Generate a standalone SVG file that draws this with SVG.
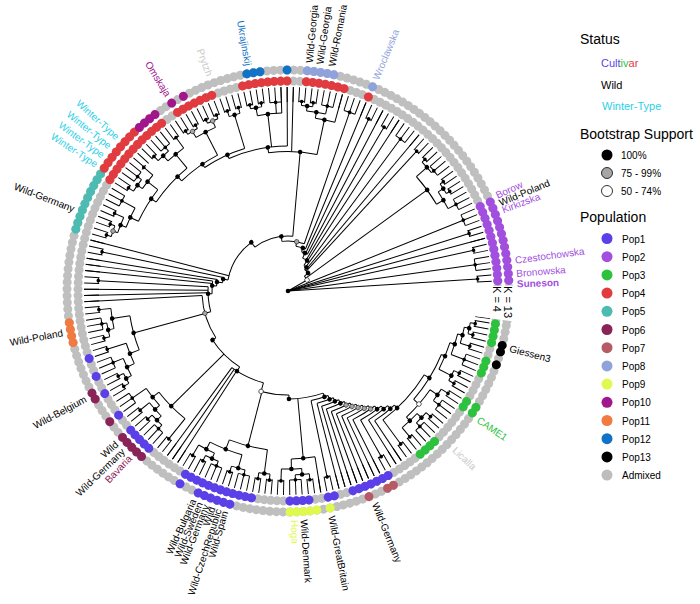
<svg xmlns="http://www.w3.org/2000/svg" width="700" height="604" viewBox="0 0 700 604">
<style>
text{font-family:"Liberation Sans",Arial,Helvetica,sans-serif;font-size:10px}
.t line{stroke:#000;stroke-width:1}
.a{fill:none;stroke:#000;stroke-width:1}
.k{fill:#000}
.g{fill:#a6a6a6;stroke:#000;stroke-width:.5}
.w{fill:#fff;stroke:#000;stroke-width:.6}
.d{fill:none;stroke-width:9;stroke-linecap:round}
.ring{stroke:#bfbfbf;stroke-dasharray:0 1.75}
.n1{stroke-dasharray:0 400}
.n2{stroke-dasharray:0 1.75 0 400}
.n3{stroke-dasharray:0 1.75 0 1.75 0 400}
.n4{stroke-dasharray:0 1.75 0 1.75 0 1.75 0 400}
.n5{stroke-dasharray:0 1.75 0 1.75 0 1.75 0 1.75 0 400}
.n6{stroke-dasharray:0 1.75 0 1.75 0 1.75 0 1.75 0 1.75 0 400}
.n7{stroke-dasharray:0 1.75 0 1.75 0 1.75 0 1.75 0 1.75 0 1.75 0 400}
.n8{stroke-dasharray:0 1.75 0 1.75 0 1.75 0 1.75 0 1.75 0 1.75 0 1.75 0 400}
.n10{stroke-dasharray:0 1.75 0 1.75 0 1.75 0 1.75 0 1.75 0 1.75 0 1.75 0 1.75 0 1.75 0 400}
.n12{stroke-dasharray:0 1.75 0 1.75 0 1.75 0 1.75 0 1.75 0 1.75 0 1.75 0 1.75 0 1.75 0 1.75 0 1.75 0 400}
.n13{stroke-dasharray:0 1.75 0 1.75 0 1.75 0 1.75 0 1.75 0 1.75 0 1.75 0 1.75 0 1.75 0 1.75 0 1.75 0 1.75 0 400}
.P1{stroke:#5b3fe8}.P2{stroke:#a24fe0}.P3{stroke:#2dc23e}.P4{stroke:#e23b3f}.P5{stroke:#4cbcb2}.P6{stroke:#8a2358}.P7{stroke:#b85a66}.P8{stroke:#8fa2dc}.P9{stroke:#dff94f}.P10{stroke:#a1158d}.P11{stroke:#f07a40}.P12{stroke:#1272c6}.P13{stroke:#000}
.L text{dominant-baseline:central}
.e{text-anchor:end}
.h{font-size:14px}
.i{font-size:11px}
</style>
<defs>
<g id="c2"><circle class="a" r="190" pathLength="360" stroke-dasharray="1.75 400"/><circle class="k" cx="190" r="1.8" transform="rotate(.875)"/></g>
<g id="c3"><circle class="a" r="189" pathLength="360" stroke-dasharray="3.5 400"/><circle class="k" cx="189" r="1.8" transform="rotate(1.75)"/></g>
</defs>
<rect width="700" height="604" fill="#fff"/>
<g id="tree" class="t" transform="translate(288 291)">
<g id="root-fan">
<line x1="0" x2="22" transform="rotate(330)"/><line x1="0" x2="189" transform="rotate(338)"/><line x1="0" x2="190" transform="rotate(342.375)"/><line x1="0" x2="204" transform="rotate(345)"/><line x1="0" x2="190" transform="rotate(347.625)"/><line x1="0" x2="189" transform="rotate(352)"/><line x1="0" x2="190" transform="rotate(356.375)"/>
<use href="#c3" transform="rotate(336.25)"/><use href="#c2" transform="rotate(341.5)"/><use href="#c2" transform="rotate(346.75)"/><use href="#c3" transform="rotate(350.25)"/><use href="#c2" transform="rotate(355.5)"/>
<circle class="k" r="2.3"/>
</g>
<g id="clade-k1">
<use href="#c2" transform="rotate(315.25)"/><use href="#c3" transform="rotate(318.75)"/><use href="#c2" transform="rotate(324)"/><use href="#c2" transform="rotate(327.5)"/><use href="#c3" transform="rotate(331)"/>
<circle class="a" r="186" pathLength="360" stroke-dasharray="4.375 400" transform="rotate(316.125)"/><line x1="186" x2="190" transform="rotate(316.125)"/><line x1="186" x2="189" transform="rotate(320.5)"/><circle class="k" cx="186" r="2.3" transform="rotate(318.3)"/>
<circle class="a" r="186" pathLength="360" stroke-dasharray="3.5 400" transform="rotate(324.875)"/><line x1="186" x2="190" transform="rotate(324.875)"/><line x1="186" x2="190" transform="rotate(328.375)"/><circle class="k" cx="186" r="2.3" transform="rotate(326.6)"/>
<circle class="a" r="180" pathLength="360" stroke-dasharray="6.15 400" transform="rotate(326.6)"/><line x1="180" x2="186" transform="rotate(326.6)"/><line x1="180" x2="189" transform="rotate(332.75)"/><circle class="k" cx="180" r="2.3" transform="rotate(329.7)"/>
<circle class="a" r="172" pathLength="360" stroke-dasharray="11.4 400" transform="rotate(318.3)"/><line x1="172" x2="186" transform="rotate(318.3)"/><line x1="172" x2="180" transform="rotate(329.7)"/><circle class="k" cx="172" r="2.3" transform="rotate(324)"/>
</g>
<g id="backbone">
<circle class="a" r="22" pathLength="360" stroke-dasharray="12 400" transform="rotate(318)"/><line x1="22" x2="172" transform="rotate(324)"/><line x1="22" x2="27" transform="rotate(318)"/>
<circle class="a" r="27" pathLength="360" stroke-dasharray="10 400" transform="rotate(308)"/><line x1="27" x2="190" transform="rotate(312.625)"/><line x1="27" x2="30" transform="rotate(308)"/><use href="#c2" transform="rotate(311.75)"/>
<circle class="a" r="30" pathLength="360" stroke-dasharray="8 400" transform="rotate(302)"/><line x1="30" x2="204" transform="rotate(310)"/><line x1="30" x2="189" transform="rotate(306.5)"/><line x1="30" x2="36" transform="rotate(302)"/><use href="#c3" transform="rotate(304.75)"/>
<circle class="a" r="36" pathLength="360" stroke-dasharray="9 400" transform="rotate(294)"/><line x1="36" x2="204" transform="rotate(303)"/><line x1="36" x2="190" transform="rotate(300.375)"/><line x1="36" x2="41.6" transform="rotate(294)"/><use href="#c2" transform="rotate(299.5)"/>
<circle class="a" r="41.6" pathLength="360" stroke-dasharray="8.75 400" transform="rotate(289)"/><line x1="41.6" x2="204" transform="rotate(297.75)"/><line x1="41.6" x2="190" transform="rotate(295.125)"/><line x1="41.6" x2="45.5" transform="rotate(289)"/><use href="#c2" transform="rotate(294.25)"/>
<circle class="a" r="45.5" pathLength="360" stroke-dasharray="12.5 400" transform="rotate(280)"/><line x1="45.5" x2="204" transform="rotate(292.5)"/><line x1="45.5" x2="50" transform="rotate(280)"/>
<circle class="a" r="50" pathLength="360" stroke-dasharray="26 400" transform="rotate(263)"/><line x1="50" x2="189" transform="rotate(289)"/><line x1="50" x2="55" transform="rotate(263)"/><use href="#c3" transform="rotate(287.25)"/>
<circle class="a" r="55" pathLength="360" stroke-dasharray="42 400" transform="rotate(233)"/><line x1="55" x2="139.5" transform="rotate(275)"/><line x1="55" x2="61" transform="rotate(233)"/>
<circle class="a" r="61" pathLength="360" stroke-dasharray="42.5 400" transform="rotate(190.5)"/><line x1="61" x2="204" transform="rotate(194.5)"/><line x1="61" x2="66" transform="rotate(190.5)"/>
<circle class="a" r="66" pathLength="360" stroke-dasharray="4.675 400" transform="rotate(187.2)"/><line x1="66" x2="190" transform="rotate(191.875)"/><line x1="66" x2="71.6" transform="rotate(187.2)"/><use href="#c2" transform="rotate(191)"/>
<circle class="a" r="71.6" pathLength="360" stroke-dasharray="5.25 400" transform="rotate(184)"/><line x1="71.6" x2="204" transform="rotate(189.25)"/><line x1="71.6" x2="76" transform="rotate(184)"/>
<circle class="a" r="76" pathLength="360" stroke-dasharray="9.5 400" transform="rotate(178)"/><line x1="76" x2="204" transform="rotate(187.5)"/><line x1="76" x2="204" transform="rotate(185.75)"/><line x1="76" x2="80" transform="rotate(178)"/>
<circle class="a" r="80" pathLength="360" stroke-dasharray="18.125 400" transform="rotate(165)"/><line x1="80" x2="190" transform="rotate(183.125)"/><line x1="80" x2="204" transform="rotate(180.5)"/><line x1="80" x2="204" transform="rotate(178.75)"/><line x1="80" x2="86" transform="rotate(165)"/><use href="#c2" transform="rotate(182.25)"/>
<circle class="a" r="86" pathLength="360" stroke-dasharray="30 400" transform="rotate(147)"/><line x1="86" x2="204" transform="rotate(177)"/><line x1="86" x2="160" transform="rotate(164.8)"/><line x1="86" x2="90" transform="rotate(147)"/>
<circle class="a" r="90" pathLength="360" stroke-dasharray="24.5 400" transform="rotate(122.5)"/><line x1="90" x2="164" transform="rotate(135.4)"/><line x1="90" x2="95" transform="rotate(122.5)"/>
<circle class="a" r="95" pathLength="360" stroke-dasharray="21.25 400" transform="rotate(105)"/><line x1="95" x2="204" transform="rotate(126.25)"/><line x1="95" x2="204" transform="rotate(124.5)"/><line x1="95" x2="204" transform="rotate(122.75)"/><line x1="95" x2="104" transform="rotate(105)"/>
<circle class="a" r="104" pathLength="360" stroke-dasharray="15.5 400" transform="rotate(89.5)"/><line x1="104" x2="160" transform="rotate(104.5)"/><line x1="104" x2="108" transform="rotate(89.5)"/>
<circle class="a" r="108" pathLength="360" stroke-dasharray="18.5 400" transform="rotate(71)"/><line x1="108" x2="168" transform="rotate(84.8)"/><line x1="108" x2="112" transform="rotate(71)"/>
<circle class="w" cx="22" r="2.3" transform="rotate(330)"/><circle class="k" cx="27" r="2.3" transform="rotate(318)"/><circle class="k" cx="30" r="2.3" transform="rotate(308)"/><circle class="k" cx="36" r="2.3" transform="rotate(302)"/><circle class="k" cx="41.6" r="2.3" transform="rotate(294)"/><circle class="k" cx="45.5" r="2.3" transform="rotate(289)"/><circle class="g" cx="50" r="2.3" transform="rotate(280)"/><circle class="k" cx="55" r="2.3" transform="rotate(263)"/><circle class="k" cx="61" r="2.3" transform="rotate(233)"/><circle class="k" cx="66" r="2.3" transform="rotate(190.5)"/><circle class="k" cx="71.6" r="2.3" transform="rotate(187.2)"/><circle class="k" cx="76" r="2.3" transform="rotate(184)"/><circle class="k" cx="80" r="2.3" transform="rotate(178)"/><circle class="g" cx="86" r="2.3" transform="rotate(165)"/><circle class="k" cx="90" r="2.3" transform="rotate(147)"/><circle class="k" cx="95" r="2.3" transform="rotate(122.5)"/><circle class="w" cx="104" r="2.3" transform="rotate(105)"/><circle class="k" cx="108" r="2.3" transform="rotate(89.5)"/>
</g>
<g id="spiral">
<circle class="a" r="112" pathLength="360" stroke-dasharray="9.125 400" transform="rotate(69)"/><line x1="112" x2="190" transform="rotate(78.125)"/><line x1="112" x2="116" transform="rotate(69)"/><use href="#c2" transform="rotate(77.25)"/>
<circle class="a" r="116" pathLength="360" stroke-dasharray="8.5 400" transform="rotate(67)"/><line x1="116" x2="204" transform="rotate(75.5)"/><line x1="116" x2="120" transform="rotate(67)"/>
<circle class="a" r="120" pathLength="360" stroke-dasharray="8.75 400" transform="rotate(65)"/><line x1="120" x2="204" transform="rotate(73.75)"/><line x1="120" x2="124" transform="rotate(65)"/>
<circle class="a" r="124" pathLength="360" stroke-dasharray="9 400" transform="rotate(63)"/><line x1="124" x2="204" transform="rotate(72)"/><line x1="124" x2="128" transform="rotate(63)"/>
<circle class="a" r="128" pathLength="360" stroke-dasharray="9.25 400" transform="rotate(61)"/><line x1="128" x2="204" transform="rotate(70.25)"/><line x1="128" x2="132" transform="rotate(61)"/>
<circle class="a" r="132" pathLength="360" stroke-dasharray="9.5 400" transform="rotate(59)"/><line x1="132" x2="204" transform="rotate(68.5)"/><line x1="132" x2="136" transform="rotate(59)"/>
<circle class="a" r="136" pathLength="360" stroke-dasharray="9.75 400" transform="rotate(57)"/><line x1="136" x2="204" transform="rotate(66.75)"/><line x1="136" x2="140" transform="rotate(57)"/>
<circle class="a" r="140" pathLength="360" stroke-dasharray="10 400" transform="rotate(55)"/><line x1="140" x2="204" transform="rotate(65)"/><line x1="140" x2="144" transform="rotate(55)"/>
<circle class="a" r="144" pathLength="360" stroke-dasharray="10.25 400" transform="rotate(53)"/><line x1="144" x2="204" transform="rotate(63.25)"/><line x1="144" x2="148" transform="rotate(53)"/>
<circle class="a" r="148" pathLength="360" stroke-dasharray="9.625 400" transform="rotate(51)"/><line x1="148" x2="190" transform="rotate(60.625)"/><line x1="148" x2="152" transform="rotate(51)"/><use href="#c2" transform="rotate(59.75)"/>
<circle class="a" r="152" pathLength="360" stroke-dasharray="9 400" transform="rotate(49)"/><line x1="152" x2="204" transform="rotate(58)"/><line x1="152" x2="156" transform="rotate(49)"/>
<circle class="a" r="156" pathLength="360" stroke-dasharray="9.25 400" transform="rotate(47)"/><line x1="156" x2="204" transform="rotate(56.25)"/><line x1="156" x2="160" transform="rotate(47)"/>
<circle class="a" r="160" pathLength="360" stroke-dasharray="22.025 400" transform="rotate(31.6)"/><line x1="160" x2="190" transform="rotate(53.625)"/><line x1="160" x2="166" transform="rotate(31.6)"/><use href="#c2" transform="rotate(52.75)"/>
<circle class="k" cx="112" r="2.3" transform="rotate(71)"/><circle class="k" cx="116" r="2.3" transform="rotate(69)"/><circle class="k" cx="120" r="2.3" transform="rotate(67)"/><circle class="k" cx="124" r="2.3" transform="rotate(65)"/><circle class="g" cx="128" r="2.3" transform="rotate(63)"/><circle class="g" cx="132" r="2.3" transform="rotate(61)"/><circle class="g" cx="136" r="2.3" transform="rotate(59)"/><circle class="g" cx="140" r="2.3" transform="rotate(57)"/><circle class="g" cx="144" r="2.3" transform="rotate(55)"/><circle class="k" cx="148" r="2.3" transform="rotate(53)"/><circle class="k" cx="152" r="2.3" transform="rotate(51)"/><circle class="k" cx="156" r="2.3" transform="rotate(49)"/><circle class="k" cx="160" r="2.3" transform="rotate(47)"/>
</g>
<g id="clade-green">
<use href="#c2" transform="rotate(9)"/><use href="#c2" transform="rotate(12.5)"/><use href="#c2" transform="rotate(16)"/><use href="#c3" transform="rotate(19.5)"/><use href="#c2" transform="rotate(24.75)"/><use href="#c2" transform="rotate(28.25)"/><use href="#c2" transform="rotate(31.75)"/><use href="#c3" transform="rotate(35.25)"/><use href="#c2" transform="rotate(40.5)"/><use href="#c3" transform="rotate(44)"/><use href="#c2" transform="rotate(49.25)"/>
<circle class="a" r="185" pathLength="360" stroke-dasharray="3.5 400" transform="rotate(9.875)"/><line x1="185" x2="190" transform="rotate(9.875)"/><line x1="185" x2="190" transform="rotate(13.375)"/>
<circle class="a" r="180" pathLength="360" stroke-dasharray="5.275 400" transform="rotate(11.6)"/><line x1="180" x2="185" transform="rotate(11.6)"/><line x1="180" x2="190" transform="rotate(16.875)"/>
<circle class="a" r="175" pathLength="360" stroke-dasharray="7.05 400" transform="rotate(14.2)"/><line x1="175" x2="180" transform="rotate(14.2)"/><line x1="175" x2="189" transform="rotate(21.25)"/>
<circle class="a" r="184" pathLength="360" stroke-dasharray="3.5 400" transform="rotate(25.625)"/><line x1="184" x2="190" transform="rotate(25.625)"/><line x1="184" x2="190" transform="rotate(29.125)"/>
<circle class="a" r="170" pathLength="360" stroke-dasharray="9.7 400" transform="rotate(17.7)"/><line x1="170" x2="175" transform="rotate(17.7)"/><line x1="170" x2="184" transform="rotate(27.4)"/>
<circle class="a" r="182" pathLength="360" stroke-dasharray="4.375 400" transform="rotate(32.625)"/><line x1="182" x2="190" transform="rotate(32.625)"/><line x1="182" x2="189" transform="rotate(37)"/>
<circle class="a" r="184" pathLength="360" stroke-dasharray="4.375 400" transform="rotate(41.375)"/><line x1="184" x2="190" transform="rotate(41.375)"/><line x1="184" x2="189" transform="rotate(45.75)"/>
<circle class="a" r="178" pathLength="360" stroke-dasharray="6.625 400" transform="rotate(43.5)"/><line x1="178" x2="184" transform="rotate(43.5)"/><line x1="178" x2="190" transform="rotate(50.125)"/>
<circle class="a" r="173" pathLength="360" stroke-dasharray="12 400" transform="rotate(34.8)"/><line x1="173" x2="182" transform="rotate(34.8)"/><line x1="173" x2="178" transform="rotate(46.8)"/>
<circle class="a" r="166" pathLength="360" stroke-dasharray="18.3 400" transform="rotate(22.5)"/><line x1="166" x2="170" transform="rotate(22.5)"/><line x1="166" x2="173" transform="rotate(40.8)"/>
<circle class="k" cx="185" r="2.3" transform="rotate(11.6)"/><circle class="k" cx="180" r="2.3" transform="rotate(14.2)"/><circle class="k" cx="175" r="2.3" transform="rotate(17.7)"/><circle class="k" cx="184" r="2.3" transform="rotate(27.4)"/><circle class="k" cx="170" r="2.3" transform="rotate(22.5)"/><circle class="k" cx="182" r="2.3" transform="rotate(34.8)"/><circle class="k" cx="184" r="2.3" transform="rotate(43.5)"/><circle class="k" cx="178" r="2.3" transform="rotate(46.8)"/><circle class="w" cx="173" r="2.3" transform="rotate(40.8)"/><circle class="k" cx="166" r="2.3" transform="rotate(31.6)"/>
</g>
<g id="clade-bottom">
<use href="#c2" transform="rotate(82.5)"/><use href="#c3" transform="rotate(86)"/><use href="#c2" transform="rotate(91.25)"/>
<circle class="a" r="184" pathLength="360" stroke-dasharray="4.375 400" transform="rotate(83.375)"/><line x1="184" x2="190" transform="rotate(83.375)"/><line x1="184" x2="189" transform="rotate(87.75)"/>
<circle class="a" r="178" pathLength="360" stroke-dasharray="6.525 400" transform="rotate(85.6)"/><line x1="178" x2="184" transform="rotate(85.6)"/><line x1="178" x2="190" transform="rotate(92.125)"/>
<circle class="a" r="168" pathLength="360" stroke-dasharray="8.15 400" transform="rotate(80.75)"/><line x1="168" x2="204" transform="rotate(80.75)"/><line x1="168" x2="178" transform="rotate(88.9)"/>
<circle class="k" cx="184" r="2.3" transform="rotate(85.6)"/><circle class="k" cx="178" r="2.3" transform="rotate(88.9)"/><circle class="k" cx="168" r="2.3" transform="rotate(84.8)"/>
</g>
<g id="clade-pop1">
<use href="#c2" transform="rotate(94.75)"/><use href="#c2" transform="rotate(98.25)"/><use href="#c3" transform="rotate(101.75)"/><use href="#c2" transform="rotate(107)"/><use href="#c3" transform="rotate(110.5)"/><use href="#c2" transform="rotate(115.75)"/><use href="#c2" transform="rotate(119.25)"/>
<circle class="a" r="184" pathLength="360" stroke-dasharray="3.5 400" transform="rotate(95.625)"/><line x1="184" x2="190" transform="rotate(95.625)"/><line x1="184" x2="190" transform="rotate(99.125)"/>
<circle class="a" r="184" pathLength="360" stroke-dasharray="4.375 400" transform="rotate(103.5)"/><line x1="184" x2="189" transform="rotate(103.5)"/><line x1="184" x2="190" transform="rotate(107.875)"/>
<circle class="a" r="184" pathLength="360" stroke-dasharray="4.375 400" transform="rotate(112.25)"/><line x1="184" x2="189" transform="rotate(112.25)"/><line x1="184" x2="190" transform="rotate(116.625)"/>
<circle class="a" r="178" pathLength="360" stroke-dasharray="5.725 400" transform="rotate(114.4)"/><line x1="178" x2="184" transform="rotate(114.4)"/><line x1="178" x2="190" transform="rotate(120.125)"/>
<circle class="a" r="170" pathLength="360" stroke-dasharray="11.6 400" transform="rotate(105.7)"/><line x1="170" x2="184" transform="rotate(105.7)"/><line x1="170" x2="178" transform="rotate(117.3)"/>
<circle class="a" r="160" pathLength="360" stroke-dasharray="14.1 400" transform="rotate(97.4)"/><line x1="160" x2="184" transform="rotate(97.4)"/><line x1="160" x2="170" transform="rotate(111.5)"/>
<circle class="k" cx="184" r="2.3" transform="rotate(97.4)"/><circle class="k" cx="184" r="2.3" transform="rotate(105.7)"/><circle class="k" cx="184" r="2.3" transform="rotate(114.4)"/><circle class="k" cx="178" r="2.3" transform="rotate(117.3)"/><circle class="k" cx="170" r="2.3" transform="rotate(111.5)"/><circle class="k" cx="160" r="2.3" transform="rotate(104.5)"/>
</g>
<g id="clade-pop6">
<use href="#c2" transform="rotate(128)"/><use href="#c3" transform="rotate(131.5)"/><use href="#c2" transform="rotate(136.75)"/><use href="#c2" transform="rotate(140.25)"/><use href="#c3" transform="rotate(143.75)"/>
<circle class="a" r="184" pathLength="360" stroke-dasharray="4.375 400" transform="rotate(133.25)"/><line x1="184" x2="189" transform="rotate(133.25)"/><line x1="184" x2="190" transform="rotate(137.625)"/>
<circle class="a" r="178" pathLength="360" stroke-dasharray="5.725 400" transform="rotate(135.4)"/><line x1="178" x2="184" transform="rotate(135.4)"/><line x1="178" x2="190" transform="rotate(141.125)"/>
<circle class="a" r="172" pathLength="360" stroke-dasharray="7.2 400" transform="rotate(138.3)"/><line x1="172" x2="178" transform="rotate(138.3)"/><line x1="172" x2="189" transform="rotate(145.5)"/>
<circle class="a" r="164" pathLength="360" stroke-dasharray="13.025 400" transform="rotate(128.875)"/><line x1="164" x2="190" transform="rotate(128.875)"/><line x1="164" x2="172" transform="rotate(141.9)"/>
<circle class="k" cx="184" r="2.3" transform="rotate(135.4)"/><circle class="k" cx="178" r="2.3" transform="rotate(138.3)"/><circle class="k" cx="172" r="2.3" transform="rotate(141.9)"/><circle class="k" cx="164" r="2.3" transform="rotate(135.4)"/>
</g>
<g id="clade-left">
<use href="#c2" transform="rotate(149)"/><use href="#c2" transform="rotate(152.5)"/><use href="#c3" transform="rotate(156)"/><use href="#c2" transform="rotate(161.25)"/><use href="#c2" transform="rotate(164.75)"/><use href="#c3" transform="rotate(168.25)"/><use href="#c2" transform="rotate(173.5)"/>
<circle class="a" r="184" pathLength="360" stroke-dasharray="3.5 400" transform="rotate(149.875)"/><line x1="184" x2="190" transform="rotate(149.875)"/><line x1="184" x2="190" transform="rotate(153.375)"/>
<circle class="a" r="178" pathLength="360" stroke-dasharray="6.15 400" transform="rotate(151.6)"/><line x1="178" x2="184" transform="rotate(151.6)"/><line x1="178" x2="189" transform="rotate(157.75)"/>
<circle class="a" r="170" pathLength="360" stroke-dasharray="7.425 400" transform="rotate(154.7)"/><line x1="170" x2="178" transform="rotate(154.7)"/><line x1="170" x2="190" transform="rotate(162.125)"/>
<circle class="a" r="184" pathLength="360" stroke-dasharray="4.375 400" transform="rotate(165.625)"/><line x1="184" x2="190" transform="rotate(165.625)"/><line x1="184" x2="189" transform="rotate(170)"/>
<circle class="a" r="178" pathLength="360" stroke-dasharray="6.575 400" transform="rotate(167.8)"/><line x1="178" x2="184" transform="rotate(167.8)"/><line x1="178" x2="190" transform="rotate(174.375)"/>
<circle class="a" r="160" pathLength="360" stroke-dasharray="12.7 400" transform="rotate(158.4)"/><line x1="160" x2="170" transform="rotate(158.4)"/><line x1="160" x2="178" transform="rotate(171.1)"/>
<circle class="k" cx="184" r="2.3" transform="rotate(151.6)"/><circle class="k" cx="178" r="2.3" transform="rotate(154.7)"/><circle class="k" cx="170" r="2.3" transform="rotate(158.4)"/><circle class="k" cx="184" r="2.3" transform="rotate(167.8)"/><circle class="k" cx="178" r="2.3" transform="rotate(171.1)"/><circle class="k" cx="160" r="2.3" transform="rotate(164.8)"/>
</g>
<g id="clade-top">
<use href="#c2" transform="rotate(196.25)"/><use href="#c2" transform="rotate(199.75)"/><use href="#c2" transform="rotate(203.25)"/><use href="#c3" transform="rotate(206.75)"/><use href="#c2" transform="rotate(212)"/><use href="#c3" transform="rotate(215.5)"/><use href="#c2" transform="rotate(219.75)"/><use href="#c2" transform="rotate(224.25)"/><use href="#c3" transform="rotate(227.75)"/><use href="#c2" transform="rotate(233)"/><use href="#c2" transform="rotate(236.5)"/><use href="#c2" transform="rotate(240)"/><use href="#c2" transform="rotate(243.5)"/><use href="#c2" transform="rotate(247)"/><use href="#c2" transform="rotate(250.5)"/><use href="#c2" transform="rotate(254)"/><use href="#c2" transform="rotate(257.5)"/><use href="#c2" transform="rotate(261)"/><use href="#c3" transform="rotate(264.5)"/><use href="#c2" transform="rotate(273.25)"/><use href="#c2" transform="rotate(276.75)"/><use href="#c3" transform="rotate(280.25)"/>
<circle class="a" r="185" pathLength="360" stroke-dasharray="3.5 400" transform="rotate(197.125)"/><line x1="185" x2="190" transform="rotate(197.125)"/><line x1="185" x2="190" transform="rotate(200.625)"/>
<circle class="a" r="180" pathLength="360" stroke-dasharray="5.225 400" transform="rotate(198.9)"/><line x1="180" x2="185" transform="rotate(198.9)"/><line x1="180" x2="190" transform="rotate(204.125)"/>
<circle class="a" r="174" pathLength="360" stroke-dasharray="7 400" transform="rotate(201.5)"/><line x1="174" x2="180" transform="rotate(201.5)"/><line x1="174" x2="189" transform="rotate(208.5)"/>
<circle class="a" r="184" pathLength="360" stroke-dasharray="4.375 400" transform="rotate(212.875)"/><line x1="184" x2="190" transform="rotate(212.875)"/><line x1="184" x2="189" transform="rotate(217.25)"/>
<circle class="a" r="178" pathLength="360" stroke-dasharray="5.525 400" transform="rotate(215.1)"/><line x1="178" x2="184" transform="rotate(215.1)"/><line x1="178" x2="190" transform="rotate(220.625)"/>
<circle class="a" r="165" pathLength="360" stroke-dasharray="12.9 400" transform="rotate(205)"/><line x1="165" x2="174" transform="rotate(205)"/><line x1="165" x2="178" transform="rotate(217.9)"/>
<circle class="a" r="184" pathLength="360" stroke-dasharray="4.375 400" transform="rotate(225.125)"/><line x1="184" x2="190" transform="rotate(225.125)"/><line x1="184" x2="189" transform="rotate(229.5)"/>
<circle class="a" r="177" pathLength="360" stroke-dasharray="6.575 400" transform="rotate(227.3)"/><line x1="177" x2="184" transform="rotate(227.3)"/><line x1="177" x2="190" transform="rotate(233.875)"/>
<circle class="a" r="159" pathLength="360" stroke-dasharray="16.6 400" transform="rotate(214)"/><line x1="159" x2="165" transform="rotate(214)"/><line x1="159" x2="177" transform="rotate(230.6)"/>
<circle class="a" r="186" pathLength="360" stroke-dasharray="3.5 400" transform="rotate(237.375)"/><line x1="186" x2="190" transform="rotate(237.375)"/><line x1="186" x2="190" transform="rotate(240.875)"/>
<circle class="a" r="186" pathLength="360" stroke-dasharray="3.5 400" transform="rotate(244.375)"/><line x1="186" x2="190" transform="rotate(244.375)"/><line x1="186" x2="190" transform="rotate(247.875)"/>
<circle class="a" r="179" pathLength="360" stroke-dasharray="7 400" transform="rotate(239.1)"/><line x1="179" x2="186" transform="rotate(239.1)"/><line x1="179" x2="186" transform="rotate(246.1)"/>
<circle class="a" r="153" pathLength="360" stroke-dasharray="16.6 400" transform="rotate(226)"/><line x1="153" x2="159" transform="rotate(226)"/><line x1="153" x2="179" transform="rotate(242.6)"/>
<circle class="a" r="184" pathLength="360" stroke-dasharray="3.5 400" transform="rotate(251.375)"/><line x1="184" x2="190" transform="rotate(251.375)"/><line x1="184" x2="190" transform="rotate(254.875)"/>
<circle class="a" r="149" pathLength="360" stroke-dasharray="17.1 400" transform="rotate(236)"/><line x1="149" x2="153" transform="rotate(236)"/><line x1="149" x2="184" transform="rotate(253.1)"/>
<circle class="a" r="186" pathLength="360" stroke-dasharray="3.5 400" transform="rotate(258.375)"/><line x1="186" x2="190" transform="rotate(258.375)"/><line x1="186" x2="190" transform="rotate(261.875)"/>
<circle class="a" r="178" pathLength="360" stroke-dasharray="7.9 400" transform="rotate(260.1)"/><line x1="178" x2="186" transform="rotate(260.1)"/><line x1="178" x2="189" transform="rotate(266.25)"/><line x1="178" x2="204" transform="rotate(268)"/>
<circle class="a" r="145" pathLength="360" stroke-dasharray="23.75 400" transform="rotate(246)"/><line x1="145" x2="149" transform="rotate(246)"/><line x1="145" x2="178" transform="rotate(263.5)"/><line x1="145" x2="204" transform="rotate(269.75)"/>
<circle class="a" r="186" pathLength="360" stroke-dasharray="3.5 400" transform="rotate(274.125)"/><line x1="186" x2="190" transform="rotate(274.125)"/><line x1="186" x2="190" transform="rotate(277.625)"/>
<circle class="a" r="181" pathLength="360" stroke-dasharray="6.1 400" transform="rotate(275.9)"/><line x1="181" x2="186" transform="rotate(275.9)"/><line x1="181" x2="189" transform="rotate(282)"/>
<circle class="a" r="175" pathLength="360" stroke-dasharray="6.5 400" transform="rotate(279)"/><line x1="175" x2="181" transform="rotate(279)"/><line x1="175" x2="204" transform="rotate(285.5)"/>
<circle class="a" r="139.5" pathLength="360" stroke-dasharray="20 400" transform="rotate(262)"/><line x1="139.5" x2="145" transform="rotate(262)"/><line x1="139.5" x2="204" transform="rotate(271.5)"/><line x1="139.5" x2="175" transform="rotate(282)"/>
<circle class="g" cx="185" r="2.3" transform="rotate(198.9)"/><circle class="k" cx="180" r="2.3" transform="rotate(201.5)"/><circle class="k" cx="174" r="2.3" transform="rotate(205)"/><circle class="k" cx="184" r="2.3" transform="rotate(215.1)"/><circle class="k" cx="178" r="2.3" transform="rotate(217.9)"/><circle class="k" cx="165" r="2.3" transform="rotate(214)"/><circle class="k" cx="184" r="2.3" transform="rotate(227.3)"/><circle class="k" cx="177" r="2.3" transform="rotate(230.6)"/><circle class="k" cx="159" r="2.3" transform="rotate(226)"/><circle class="g" cx="186" r="2.3" transform="rotate(239.1)"/><circle class="g" cx="186" r="2.3" transform="rotate(246.1)"/><circle class="k" cx="179" r="2.3" transform="rotate(242.6)"/><circle class="k" cx="153" r="2.3" transform="rotate(236)"/><circle class="k" cx="184" r="2.3" transform="rotate(253.1)"/><circle class="k" cx="149" r="2.3" transform="rotate(246)"/><circle class="k" cx="186" r="2.3" transform="rotate(260.1)"/><circle class="k" cx="178" r="2.3" transform="rotate(263.5)"/><circle class="k" cx="145" r="2.3" transform="rotate(262)"/><circle class="k" cx="186" r="2.3" transform="rotate(275.9)"/><circle class="k" cx="181" r="2.3" transform="rotate(279)"/><circle class="k" cx="175" r="2.3" transform="rotate(282)"/><circle class="k" cx="139.5" r="2.3" transform="rotate(275)"/>
</g>
<circle id="tip-stubs" r="196.5" fill="none" stroke="#000" stroke-width="15" pathLength="360" stroke-dasharray="0.28 1.47" transform="rotate(8.86)"/>
</g>
<g id="rings" transform="translate(288 291)">
<circle class="d ring" r="210" pathLength="360" transform="rotate(9)"/>
<circle class="d ring" r="221" pathLength="360" transform="rotate(9)"/>
<circle r="208" fill="none" stroke="#fff" stroke-width="42" pathLength="360" stroke-dasharray="9.1 400" transform="rotate(358.6)"/>
<g id="ring-k4">
<circle class="d P3 n4" r="210" pathLength="360" transform="rotate(9)"/><circle class="d P3 n3" r="210" pathLength="360" transform="rotate(19.5)"/><circle class="d P3 n2" r="210" pathLength="360" transform="rotate(31.75)"/><circle class="d P3 n4" r="210" pathLength="360" transform="rotate(45.75)"/>
<circle class="d P1 n7" r="210" pathLength="360" transform="rotate(61.5)"/><circle class="d P1 n2" r="210" pathLength="360" transform="rotate(77.25)"/><circle class="d P1 n4" r="210" pathLength="360" transform="rotate(84.25)"/><circle class="d P1 n12" r="210" pathLength="360" transform="rotate(100)"/><circle class="d P1 n5" r="210" pathLength="360" transform="rotate(131.5)"/><circle class="d P1 n1" r="210" pathLength="360" transform="rotate(143.75)"/><circle class="d P1 n1" r="210" pathLength="360" transform="rotate(150.75)"/><circle class="d P1 n1" r="210" pathLength="360" transform="rotate(156)"/><circle class="d P1 n1" r="210" pathLength="360" transform="rotate(161.25)"/>
<circle class="d P4 n13" r="210" pathLength="360" transform="rotate(212)"/><circle class="d P4 n5" r="210" pathLength="360" transform="rotate(238.25)"/><circle class="d P4 n2" r="210" pathLength="360" transform="rotate(247)"/><circle class="d P4 n7" r="210" pathLength="360" transform="rotate(257.5)"/><circle class="d P4 n1" r="210" pathLength="360" transform="rotate(269.75)"/><circle class="d P4 n7" r="210" pathLength="360" transform="rotate(275)"/><circle class="d P4 n1" r="210" pathLength="360" transform="rotate(292.5)"/>
<circle class="d P2 n13" r="210" pathLength="360" transform="rotate(336.25)"/>
</g>
<g id="ring-k13">
<circle class="d P13 n2" r="221" pathLength="360" transform="rotate(14.25)"/><circle class="d P13 n1" r="221" pathLength="360" transform="rotate(19.5)"/>
<circle class="d P3 n2" r="221" pathLength="360" transform="rotate(31.75)"/>
<circle class="d P7 n2" r="221" pathLength="360" transform="rotate(61.5)"/><circle class="d P7 n1" r="221" pathLength="360" transform="rotate(68.5)"/>
<circle class="d P9 n1" r="221" pathLength="360" transform="rotate(79)"/><circle class="d P9 n5" r="221" pathLength="360" transform="rotate(82.5)"/>
<circle class="d P1 n6" r="221" pathLength="360" transform="rotate(105.25)"/><circle class="d P1 n1" r="221" pathLength="360" transform="rotate(119.25)"/>
<circle class="d P6 n5" r="221" pathLength="360" transform="rotate(131.5)"/><circle class="d P6 n1" r="221" pathLength="360" transform="rotate(143.75)"/><circle class="d P6 n2" r="221" pathLength="360" transform="rotate(150.75)"/>
<circle class="d P11 n4" r="221" pathLength="360" transform="rotate(166.5)"/>
<circle class="d P5 n10" r="221" pathLength="360" transform="rotate(196.25)"/>
<circle class="d P4 n8" r="221" pathLength="360" transform="rotate(213.75)"/>
<circle class="d P10 n4" r="221" pathLength="360" transform="rotate(227.75)"/><circle class="d P10 n1" r="221" pathLength="360" transform="rotate(238.25)"/><circle class="d P10 n1" r="221" pathLength="360" transform="rotate(241.75)"/>
<circle class="d P12 n3" r="221" pathLength="360" transform="rotate(259.25)"/><circle class="d P12 n1" r="221" pathLength="360" transform="rotate(269.75)"/>
<circle class="d P8 n5" r="221" pathLength="360" transform="rotate(275)"/><circle class="d P8 n1" r="221" pathLength="360" transform="rotate(292.5)"/>
<circle class="d P2 n13" r="221" pathLength="360" transform="rotate(336.25)"/>
</g>
</g>
<g id="tip-labels" class="L" transform="translate(288 291)">
<text transform="rotate(292.5) translate(229 0)" fill="#8fa2dc">Wroclawska</text>
<text transform="rotate(275.3) translate(229 0)">Wild-Georgia</text>
<text transform="rotate(278) translate(229 0)">Wild-Georgia</text>
<text transform="rotate(281) translate(229 0)">Wild-Romania</text>
<text transform="rotate(335.4) translate(229 0)" fill="#a24fe0">Borow</text>
<text transform="rotate(337.4) translate(229 0)">Wild-Poland</text>
<text transform="rotate(339.3) translate(229 0)" fill="#a24fe0">Kirkizska</text>
<text transform="rotate(352.3) translate(229 0)" fill="#a24fe0">Czestochowska</text>
<text transform="rotate(355.6) translate(229 0)" fill="#a24fe0">Bronowska</text>
<text transform="rotate(358.2) translate(229 0)" fill="#a24fe0" font-weight="bold">Suneson</text>
<text transform="rotate(14.5) translate(229 0)">Giessen3</text>
<text transform="rotate(34) translate(229 0)" fill="#2dc23e">CAME1</text>
<text transform="rotate(43.5) translate(229 0)" fill="#c8c8c8">Licalla</text>
<text transform="rotate(67.7) translate(229 0)">Wild-Germany</text>
<text transform="rotate(79) translate(229 0)">Wild-GreatBritain</text>
<text transform="rotate(86) translate(229 0)">Wild-Denmark</text>
<text transform="rotate(88.4) translate(229 0)" fill="#dff94f">Hoga</text>
<text class="e" transform="rotate(-74) translate(-229 0)">Wild-Spain</text>
<text class="e" transform="rotate(-72.3) translate(-229 0)">Wild-CzechRepublic</text>
<text class="e" transform="rotate(-70.7) translate(-229 0)">Wild</text>
<text class="e" transform="rotate(-69) translate(-229 0)">Wild-Germany</text>
<text class="e" transform="rotate(-67.4) translate(-229 0)">Wild-Sweden</text>
<text class="e" transform="rotate(-65.6) translate(-229 0)">Wild-Bulgaria</text>
<text class="e" transform="rotate(-46.4) translate(-229 0)" fill="#8a2358">Bavaria</text>
<text class="e" transform="rotate(-44) translate(-229 0)">Wild-Germany</text>
<text class="e" transform="rotate(-41.6) translate(-229 0)">Wild</text>
<text class="e" transform="rotate(-28) translate(-229 0)">Wild-Belgium</text>
<text class="e" transform="rotate(-10.5) translate(-229 0)">Wild-Poland</text>
<text class="e" transform="rotate(21) translate(-229 0)">Wild-Germany</text>
<text class="e" transform="rotate(33.4) translate(-229 0)" fill="#2ecfe6">Winter-Type</text>
<text class="e" transform="rotate(36.2) translate(-229 0)" fill="#2ecfe6">Winter-Type</text>
<text class="e" transform="rotate(39) translate(-229 0)" fill="#2ecfe6">Winter-Type</text>
<text class="e" transform="rotate(42) translate(-229 0)" fill="#2ecfe6">Winter-Type</text>
<text class="e" transform="rotate(58.5) translate(-229 0)" fill="#a1158d">Omskaja</text>
<text class="e" transform="rotate(70) translate(-229 0)" fill="#c8c8c8">Prytzh</text>
<text class="e" transform="rotate(80) translate(-229 0)" fill="#1272c6">Ukrajinskij</text>
</g>
<g id="k-labels" class="L">
<text class="i" transform="translate(497 286) rotate(90)">K = 4</text>
<text class="i" transform="translate(508 286) rotate(90)">K = 13</text>
</g>
<g id="legend">
<text class="h" x="580" y="44">Status</text>
<text class="i" x="601" y="67"><tspan fill="#5b3fe8">Cult</tspan><tspan fill="#2dc23e">iv</tspan><tspan fill="#e23b3f">ar</tspan></text>
<text class="i" x="601" y="89">Wild</text>
<text class="i" x="602" y="110" fill="#2ecfe6">Winter-Type</text>
<text class="h" x="580" y="139">Bootstrap Support</text>
<circle cx="607" cy="155" r="5.5" fill="#000"/><text x="621" y="159">100%</text>
<circle cx="607" cy="173" r="5.5" fill="#a6a6a6" stroke="#000" stroke-width=".8"/><text x="621" y="177">75 - 99%</text>
<circle cx="607" cy="191" r="5.5" fill="#fff" stroke="#000" stroke-width=".8"/><text x="621" y="195">50 - 74%</text>
<text class="h" x="580" y="222">Population</text>
<circle cx="607" cy="238.5" r="5.5" fill="#5b3fe8"/><text x="622" y="242.5">Pop1</text>
<circle cx="607" cy="256.7" r="5.5" fill="#a24fe0"/><text x="622" y="260.7">Pop2</text>
<circle cx="607" cy="274.9" r="5.5" fill="#2dc23e"/><text x="622" y="278.9">Pop3</text>
<circle cx="607" cy="293.1" r="5.5" fill="#e23b3f"/><text x="622" y="297.1">Pop4</text>
<circle cx="607" cy="311.3" r="5.5" fill="#4cbcb2"/><text x="622" y="315.3">Pop5</text>
<circle cx="607" cy="329.5" r="5.5" fill="#8a2358"/><text x="622" y="333.5">Pop6</text>
<circle cx="607" cy="347.7" r="5.5" fill="#b85a66"/><text x="622" y="351.7">Pop7</text>
<circle cx="607" cy="365.9" r="5.5" fill="#8fa2dc"/><text x="622" y="369.9">Pop8</text>
<circle cx="607" cy="384.1" r="5.5" fill="#dff94f"/><text x="622" y="388.1">Pop9</text>
<circle cx="607" cy="402.3" r="5.5" fill="#a1158d"/><text x="622" y="406.3">Pop10</text>
<circle cx="607" cy="420.5" r="5.5" fill="#f07a40"/><text x="622" y="424.5">Pop11</text>
<circle cx="607" cy="438.7" r="5.5" fill="#1272c6"/><text x="622" y="442.7">Pop12</text>
<circle cx="607" cy="456.9" r="5.5" fill="#000"/><text x="622" y="460.9">Pop13</text>
<circle cx="607" cy="475.1" r="5.5" fill="#bdbdbd"/><text x="622" y="479.1">Admixed</text>
</g>
</svg>
